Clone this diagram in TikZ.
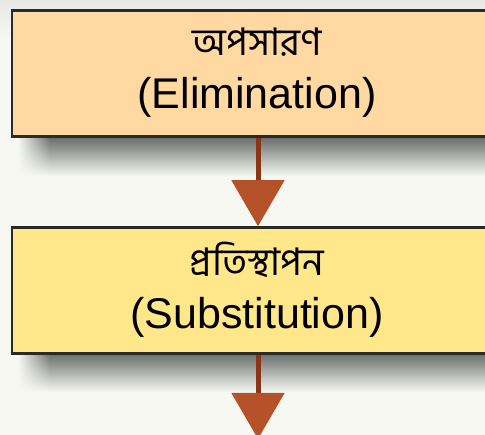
\documentclass[tikz,border=0pt]{standalone}
\usepackage{fontspec}
\setmainfont{Liberation Sans}
\newfontfamily\bengalifont[Script=Bengali]{Hind Siliguri}
\usepackage{tikz}
\usetikzlibrary{arrows.meta,fadings}

\definecolor{bgwhite}{HTML}{F7F8F2}
\definecolor{bggray}{HTML}{E7E9E5}
\definecolor{shadowgray}{HTML}{636866}
\definecolor{boxpeach}{HTML}{FFD9A1}
\definecolor{boxyellow}{HTML}{FFE78A}
\definecolor{boxedge}{HTML}{2B2A2A}
\definecolor{shaftbrown}{HTML}{8A3616}
\definecolor{headbrown}{HTML}{B5522A}

\tikzfading[name=leftedge, left color=transparent!100, right color=transparent!0]

\tikzset{
  stepbox/.style={draw=boxedge, line width=2.5pt, minimum width=490pt,
    minimum height=126pt, align=center, inner sep=0pt, text depth=11pt,
    font=\fontsize{43}{53}\selectfont},
  boxshadow/.style={top color=shadowgray, bottom color=bgwhite},
  flowarrow/.style={draw=shaftbrown, line width=5pt,
    -{Triangle[width=52pt,length=46pt,color=headbrown]}}
}

\begin{document}
\begin{tikzpicture}[x=1pt,y=-1pt]
\useasboundingbox (0,0) rectangle (485,435);
\shade [top color=bggray, bottom color=bgwhite] (0,0) rectangle (485,40);
\fill [bgwhite] (0,40) rectangle (485,435);
% shadows under the boxes
\shade [boxshadow] (50,136) rectangle (485,176);
\shade [boxshadow, path fading=leftedge] (18,136) rectangle (50,176);
\shade [boxshadow] (50,352) rectangle (485,392);
\shade [boxshadow, path fading=leftedge] (18,352) rectangle (50,392);
\node [stepbox, fill=boxpeach] (elim) at (257,73.5)
  {{\bengalifont\fontsize{38}{53}\selectfont অপসারণ}\\(Elimination)};
\node [stepbox, fill=boxyellow] (subst) at (257,290.5)
  {{\bengalifont\fontsize{38}{53}\selectfont প্রতিস্থাপন}\\(Substitution)};
\coordinate (next) at (258,439);
\draw [flowarrow] (elim.south -| next) -- (subst.north -| next);
\draw [flowarrow] (subst.south -| next) -- (next);
\end{tikzpicture}
\end{document}
